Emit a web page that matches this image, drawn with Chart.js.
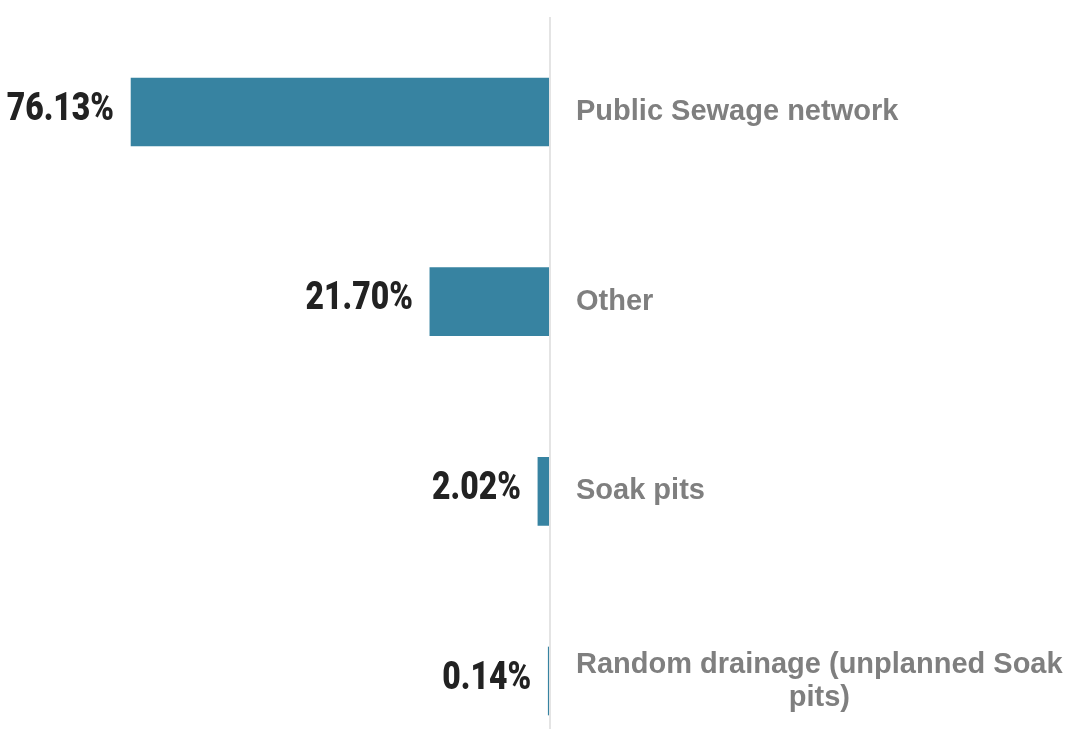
<!DOCTYPE html>
<html>
<head>
<meta charset="utf-8">
<script src="https://cdn.jsdelivr.net/npm/chart.js@4/dist/chart.umd.min.js"></script>
<style>
  html, body { margin: 0; padding: 0; background: #ffffff; overflow: hidden; }
  #wrap { width: 1069px; height: 729px; }
</style>
</head>
<body>
<div id="wrap"><canvas id="sewageChart" width="1069" height="729"></canvas></div>
<script>
// sewage disposal shares, in percent
const categories = [
    'Public Sewage network',
    'Other',
    'Soak pits',
    ['Random drainage (unplanned Soak', 'pits)']
];
const shares = [76.13, 21.70, 2.02, 0.14];

const BAR_COLOR = '#3783a1';
const LABEL_GREY = '#7f7f7f';

// percent figures left of each bar, in a narrow heavy face
const valueLabels = {
    id: 'valueLabels',
    afterDatasetsDraw(chart) {
        const ctx = chart.ctx;
        const meta = chart.getDatasetMeta(0);
        ctx.save();
        ctx.fillStyle = '#222222';
        ctx.font = '900 38px Roboto, "Liberation Sans", sans-serif';
        ctx.textAlign = 'right';
        ctx.textBaseline = 'middle';
        meta.data.forEach((bar, i) => {
            const text = shares[i].toFixed(2) + '%';
            ctx.save();
            ctx.translate(Math.min(bar.x, bar.base) - 17, bar.y - 2);
            ctx.scale(0.84, 1);
            ctx.fillText(text, 0, 0);
            ctx.restore();
        });
        ctx.restore();
    }
};

// category names right of the axis; wrapped lines are centred on each other
const categoryLabels = {
    id: 'categoryLabels',
    afterDraw(chart) {
        const ctx = chart.ctx;
        const yScale = chart.scales.y;
        const left = chart.chartArea.right + 27;
        const lineHeight = 33;
        ctx.save();
        ctx.fillStyle = LABEL_GREY;
        ctx.font = 'bold 29px "Liberation Sans", Arial, sans-serif';
        ctx.textBaseline = 'middle';
        categories.forEach((cat, i) => {
            const lines = Array.isArray(cat) ? cat : [cat];
            const y = yScale.getPixelForValue(i);
            const widest = Math.max(...lines.map(l => ctx.measureText(l).width));
            const top = y - (lines.length - 1) * lineHeight / 2;
            lines.forEach((line, j) => {
                if (lines.length > 1) {
                    ctx.textAlign = 'center';
                    ctx.fillText(line, left + widest / 2, top + j * lineHeight);
                } else {
                    ctx.textAlign = 'left';
                    ctx.fillText(line, left, top);
                }
            });
        });
        ctx.restore();
    }
};

// thin grey baseline running the full height
const zeroLine = {
    id: 'zeroLine',
    afterDatasetsDraw(chart) {
        const ctx = chart.ctx;
        const x = chart.scales.x.getPixelForValue(0);
        ctx.save();
        ctx.fillStyle = '#e4e4e4';
        ctx.fillRect(x, 17, 2, chart.height - 17);
        ctx.restore();
    }
};

new Chart(document.getElementById('sewageChart'), {
    type: 'bar',
    data: {
        labels: categories,
        datasets: [{
            data: shares,
            backgroundColor: BAR_COLOR,
            borderWidth: 0,
            barThickness: 68,
            clip: false
        }]
    },
    options: {
        indexAxis: 'y',
        responsive: false,
        animation: false,
        devicePixelRatio: 1,
        layout: {
            padding: { left: 0, right: 520, top: 112, bottom: 48 }
        },
        scales: {
            x: {
                display: false,
                reverse: true,
                min: 0,
                max: 100
            },
            y: {
                display: false,
                offset: false
            }
        },
        plugins: {
            legend: { display: false },
            tooltip: { enabled: false }
        }
    },
    plugins: [zeroLine, valueLabels, categoryLabels]
});
</script>
</body>
</html>
